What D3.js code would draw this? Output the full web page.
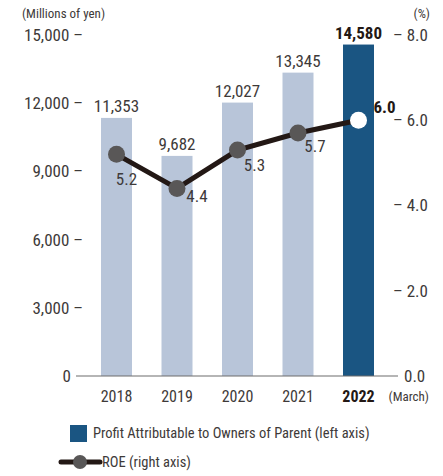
<!DOCTYPE html>
<html>
<head>
<meta charset="utf-8">
<script src="https://cdn.jsdelivr.net/npm/d3@7"></script>
<style>
  body { margin: 0; background: #fff; }
  svg text { font-family: "Roboto Condensed", Roboto, sans-serif; font-stretch: condensed; fill: #3e3a39; }
</style>
</head>
<body>
<div id="chart"></div>
<script>
// data
const years = ["2018", "2019", "2020", "2021", "2022"];
const profit = [11353, 9682, 12027, 13345, 14580];
const roe = [5.2, 4.4, 5.3, 5.7, 6.0];
const leftTicks = [0, 3000, 6000, 9000, 12000, 15000];
const rightTicks = [0, 2, 4, 6, 8];

const W = 443, H = 476;
const svg = d3.select("#chart").append("svg")
    .attr("width", W)
    .attr("height", H);

const x = d3.scalePoint().domain(years).range([116.5, 358.5]);
const yL = d3.scaleLinear().domain([0, 15000]).range([376, 35]);
const yR = d3.scaleLinear().domain([0, 8]).range([376, 35]);
const barW = 31;
const fmt = d3.format(",");

// bars
svg.append("g").selectAll("rect")
    .data(profit)
    .enter()
    .append("rect")
    .attr("x", (d, i) => x(years[i]) - barW / 2)
    .attr("y", d => yL(d))
    .attr("width", barW)
    .attr("height", d => yL(0) - yL(d))
    .attr("fill", (d, i) => i === 4 ? "#1a5582" : "#b8c5d9");

// bar values
svg.append("g").selectAll("text")
    .data(profit)
    .enter()
    .append("text")
    .attr("x", (d, i) => x(years[i]))
    .attr("y", d => yL(d) - 6)
    .attr("text-anchor", "middle")
    .style("font-size", "17px")
    .style("font-weight", (d, i) => i === 4 ? "bold" : "normal")
    .style("fill", (d, i) => i === 4 ? "#231815" : "#3e3a39")
    .text(d => fmt(d));

// baseline
svg.append("line")
    .attr("x1", 76).attr("x2", 398)
    .attr("y1", yL(0)).attr("y2", yL(0))
    .attr("stroke", "#6d6d6d")
    .attr("stroke-width", 1.2);

// left axis
const axL = svg.append("g")
    .attr("transform", "translate(83,0)")
    .call(d3.axisLeft(yL).tickValues(leftTicks).tickSize(0).tickPadding(0)
        .tickFormat(d => d === 0 ? "0" : fmt(d) + " –"));
axL.select(".domain").remove();
axL.selectAll("text")
    .style("font-size", "17px")
    .attr("x", d => d === 0 ? -12 : 0);

// right axis
const axR = svg.append("g")
    .attr("transform", "translate(393,0)")
    .call(d3.axisRight(yR).tickValues(rightTicks).tickSize(0).tickPadding(0)
        .tickFormat(d => d === 0 ? "0.0" : "– " + d3.format(".1f")(d)));
axR.select(".domain").remove();
axR.selectAll("text")
    .style("font-size", "17px")
    .attr("x", d => d === 0 ? 11 : 0);

// x labels
svg.append("g").selectAll("text")
    .data(years)
    .enter()
    .append("text")
    .attr("x", d => x(d))
    .attr("y", 402)
    .attr("text-anchor", "middle")
    .style("font-size", "16px")
    .style("font-weight", (d, i) => i === 4 ? "bold" : "normal")
    .style("fill", (d, i) => i === 4 ? "#231815" : "#3e3a39")
    .text(d => d);

svg.append("text").attr("x", 429).attr("y", 401).attr("text-anchor", "end")
    .style("font-size", "13px").text("(March)");
svg.append("text").attr("x", 22).attr("y", 18)
    .style("font-size", "13px").text("(Millions of yen)");
svg.append("text").attr("x", 430).attr("y", 18).attr("text-anchor", "end")
    .style("font-size", "13px").text("(%)");

// ROE line
const line = d3.line().x((d, i) => x(years[i])).y(d => yR(d));
svg.append("path")
    .datum(roe)
    .attr("d", line)
    .attr("fill", "none")
    .attr("stroke", "#231815")
    .attr("stroke-width", 5);

svg.append("g").selectAll("circle")
    .data(roe)
    .enter()
    .append("circle")
    .attr("cx", (d, i) => x(years[i]))
    .attr("cy", d => yR(d))
    .attr("r", 8.5)
    .attr("fill", (d, i) => i === 4 ? "#ffffff" : "#595757");

// ROE labels (offsets from the point)
const roeOff = [[10, 31], [20, 14], [17, 21], [17, 19], [26, -7]];
svg.append("g").selectAll("text")
    .data(roe)
    .enter()
    .append("text")
    .attr("x", (d, i) => x(years[i]) + roeOff[i][0])
    .attr("y", (d, i) => yR(d) + roeOff[i][1])
    .attr("text-anchor", "middle")
    .style("font-size", "17px")
    .style("font-weight", (d, i) => i === 4 ? "bold" : "normal")
    .style("fill", (d, i) => i === 4 ? "#231815" : "#3e3a39")
    .text(d => d3.format(".1f")(d));

// legend
svg.append("rect").attr("x", 70).attr("y", 425).attr("width", 17).attr("height", 17)
    .attr("fill", "#1a5582");
svg.append("text").attr("x", 93).attr("y", 438)
    .style("font-size", "14.5px").text("Profit Attributable to Owners of Parent (left axis)");
svg.append("line").attr("x1", 61).attr("x2", 100).attr("y1", 462).attr("y2", 462)
    .attr("stroke", "#231815").attr("stroke-width", 5).attr("stroke-linecap", "round");
svg.append("circle").attr("cx", 80).attr("cy", 462).attr("r", 7).attr("fill", "#595757");
svg.append("text").attr("x", 102).attr("y", 467)
    .style("font-size", "14.5px").text("ROE (right axis)");
</script>
</body>
</html>
